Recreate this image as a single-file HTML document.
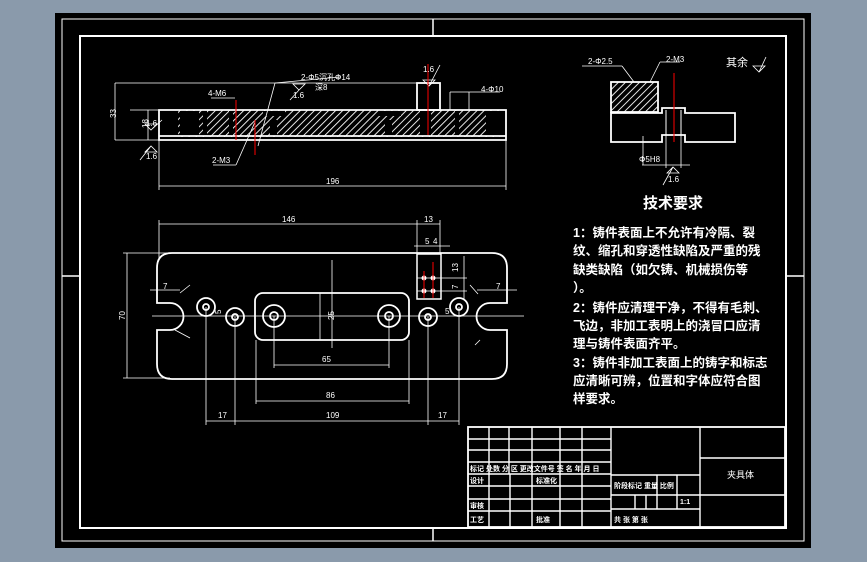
<!DOCTYPE html>
<html><head><meta charset="utf-8"><style>
html,body{margin:0;padding:0;width:867px;height:562px;overflow:hidden;background:#8a9aab}
svg{display:block}
.t{font-family:"Liberation Sans","Noto Sans CJK SC",sans-serif;fill:#fff}
</style></head><body>
<svg width="867" height="562" viewBox="0 0 867 562" xmlns="http://www.w3.org/2000/svg">
<defs>
<pattern id="h" patternUnits="userSpaceOnUse" width="5" height="5" patternTransform="rotate(45)">
<line x1="0" y1="0" x2="0" y2="5" stroke="#fff" stroke-width="1.8"/></pattern>
</defs>
<rect x="55" y="13" width="756" height="535" fill="#000"/>
<rect x="62" y="19" width="742" height="522" fill="none" stroke="#fff" stroke-width="1"/>
<rect x="80" y="36" width="706" height="492" fill="none" stroke="#fff" stroke-width="2"/>
<g stroke="#fff" stroke-width="1.5">
<line x1="433" y1="19" x2="433" y2="36"/><line x1="433" y1="528" x2="433" y2="541"/>
<line x1="62" y1="276" x2="80" y2="276"/><line x1="786" y1="276" x2="804" y2="276"/>
</g>

<!-- top view -->
<g fill="none" stroke="#fff">
<rect x="178" y="110" width="322" height="27" fill="url(#h)" stroke="none"/>
<g fill="#000" stroke="none">
<rect x="180" y="111" width="19" height="25"/><rect x="486" y="111" width="18" height="25"/>
<rect x="203" y="111" width="4" height="25"/><rect x="229" y="111" width="4" height="25"/>
<rect x="270" y="120" width="7" height="16"/><rect x="385" y="120" width="7" height="16"/>
<rect x="420" y="111" width="11" height="25"/><rect x="455" y="111" width="4" height="25"/>
<rect x="263" y="111" width="22" height="5"/><rect x="379" y="111" width="22" height="5"/>
</g>
<path d="M159 110 H506 V140 H159 Z M159 136 H506" stroke-width="1.8"/>
<rect x="417" y="83" width="23" height="27" stroke-width="1.8"/>
<g stroke-width="0.8">
<line x1="115" y1="83" x2="417" y2="83"/><line x1="115" y1="140" x2="159" y2="140"/>
<line x1="115" y1="83" x2="115" y2="140"/>
<line x1="148" y1="110" x2="148" y2="140"/><line x1="130" y1="110" x2="159" y2="110"/>
<line x1="159" y1="140" x2="159" y2="190"/><line x1="506" y1="140" x2="506" y2="190"/>
<line x1="159" y1="186" x2="506" y2="186"/>
<line x1="450" y1="92" x2="500" y2="92"/><line x1="450" y1="92" x2="450" y2="110"/><line x1="469" y1="92" x2="469" y2="110"/>
<line x1="275" y1="83" x2="340" y2="77"/><line x1="275" y1="83" x2="258" y2="146"/>
<line x1="211" y1="98" x2="235" y2="98"/>
<line x1="213" y1="165" x2="236" y2="165"/><line x1="236" y1="165" x2="255" y2="122"/>
<path d="M145 124 L151 130 L157 124 Z M151 130 L162 120"/>
<path d="M145 152 L151 146 L157 152 Z M151 146 L140 160"/>
<path d="M293 84 L299 90 L305 84 Z M299 90 L290 100"/>
<path d="M423 80 L429 86 L435 80 Z M429 86 L440 65"/>
</g>
<g stroke="#f00" stroke-width="1"><line x1="428" y1="64" x2="428" y2="135"/><line x1="236" y1="100" x2="236" y2="140"/><line x1="255" y1="120" x2="255" y2="155"/></g>
</g>
<g class="t" font-size="8">
<text x="301" y="80">2-Φ5沉孔Φ14</text><text x="315" y="90">深8</text>
<text x="208" y="96">4-M6</text><text x="481" y="92">4-Φ10</text>
<text x="212" y="163">2-M3</text><text x="326" y="184">196</text>
<text x="146" y="126">1.6</text><text x="146" y="159">1.6</text>
<text x="293" y="98">1.6</text><text x="423" y="72">1.6</text>
<text x="108" y="118" transform="rotate(-90 112 114)">33</text>
<text x="142" y="128" transform="rotate(-90 145 125)">18</text>
</g>

<!-- front view -->
<g fill="none" stroke="#fff" stroke-width="1.8">
<path d="M172 253 H492 Q507 253 507 268 V303 H490 A13 13 0 0 0 490 330 H507 V364 Q507 379 492 379 H172 Q157 379 157 364 V330 H170 A13 13 0 0 0 170 303 H157 V268 Q157 253 172 253 Z"/>
<rect x="255" y="293" width="154" height="47" rx="8"/>
<rect x="417" y="254" width="24" height="45" stroke-width="1.5"/>
<circle cx="274" cy="316" r="11"/><circle cx="274" cy="316" r="4"/>
<circle cx="389" cy="316" r="11"/><circle cx="389" cy="316" r="4"/>
<circle cx="206" cy="307" r="9"/><circle cx="206" cy="307" r="3"/>
<circle cx="235" cy="317" r="9"/><circle cx="235" cy="317" r="3"/>
<circle cx="428" cy="317" r="9"/><circle cx="428" cy="317" r="3"/>
<circle cx="459" cy="307" r="9"/><circle cx="459" cy="307" r="3"/>
</g>
<g fill="#fff"><circle cx="424" cy="278" r="2.5"/><circle cx="433" cy="278" r="2.5"/><circle cx="424" cy="291" r="2.5"/><circle cx="433" cy="291" r="2.5"/></g>
<g stroke="#f00"><line x1="424" y1="271" x2="424" y2="298"/><line x1="433" y1="262" x2="433" y2="298"/></g>
<g stroke="#fff" stroke-width="0.8" fill="none">
<line x1="159" y1="224" x2="440" y2="224"/><line x1="159" y1="220" x2="159" y2="260"/><line x1="417" y1="220" x2="417" y2="254"/><line x1="440" y1="220" x2="440" y2="254"/>
<line x1="414" y1="246" x2="450" y2="246"/>
<line x1="127" y1="253" x2="127" y2="378"/><line x1="123" y1="253" x2="170" y2="253"/><line x1="123" y1="378" x2="170" y2="378"/>
<line x1="152" y1="316" x2="524" y2="316"/><line x1="332" y1="260" x2="332" y2="348"/>
<line x1="274" y1="316" x2="274" y2="368"/><line x1="389" y1="316" x2="389" y2="368"/><line x1="274" y1="365" x2="389" y2="365"/>
<line x1="256" y1="340" x2="256" y2="404"/><line x1="409" y1="340" x2="409" y2="404"/><line x1="256" y1="401" x2="409" y2="401"/>
<line x1="206" y1="307" x2="206" y2="425"/><line x1="235" y1="317" x2="235" y2="425"/><line x1="428" y1="317" x2="428" y2="425"/><line x1="459" y1="307" x2="459" y2="425"/>
<line x1="206" y1="421" x2="459" y2="421"/>
<line x1="320" y1="293" x2="320" y2="340"/>
<line x1="417" y1="278" x2="467" y2="278"/><line x1="417" y1="291" x2="467" y2="291"/><line x1="464" y1="256" x2="464" y2="300"/>
<line x1="150" y1="290" x2="180" y2="290"/><line x1="477" y1="290" x2="517" y2="290"/>
<line x1="180" y1="293" x2="190" y2="285"/><line x1="175" y1="330" x2="190" y2="338"/>
<line x1="478" y1="294" x2="470" y2="285"/><line x1="480" y1="340" x2="475" y2="345"/>
</g>
<g class="t" font-size="8">
<text x="282" y="222">146</text><text x="424" y="222">13</text><text x="425" y="244">5</text><text x="433" y="244">4</text>
<text x="322" y="362">65</text><text x="326" y="398">86</text>
<text x="218" y="418">17</text><text x="326" y="418">109</text><text x="438" y="418">17</text>
<text x="163" y="289">7</text><text x="496" y="289">7</text>
<text x="119" y="320" transform="rotate(-90 122 317)">70</text>
<text x="328" y="320" transform="rotate(-90 331 317)">25</text>
<text x="215" y="314" transform="rotate(-90 218 311)">5</text><text x="445" y="314">5</text>
<text x="452" y="272" transform="rotate(-90 455 269)">13</text><text x="452" y="289" transform="rotate(-90 455 286)">7</text>
</g>

<!-- right detail -->
<g fill="none" stroke="#fff">
<rect x="611" y="82" width="47" height="30" fill="url(#h)" stroke-width="1.8"/>
<path d="M611 112 V142 H662 V135 H685 V142 H735 V113 H685 V108 H662 V113 H611" stroke-width="1.8"/>
<line x1="666" y1="110" x2="666" y2="135"/><line x1="681" y1="110" x2="681" y2="135"/>
<g stroke-width="0.8">
<line x1="582" y1="66" x2="622" y2="66"/><line x1="622" y1="66" x2="634" y2="82"/>
<line x1="660" y1="62" x2="680" y2="62"/><line x1="660" y1="62" x2="650" y2="82"/>
<line x1="643" y1="136" x2="643" y2="165"/>
<line x1="642" y1="165" x2="690" y2="165"/><line x1="666" y1="135" x2="666" y2="168"/><line x1="681" y1="135" x2="681" y2="168"/>
<path d="M667 173 L673 167 L679 173 Z M673 167 L663 185"/>
<path d="M753 66 L759 72 L765 66 Z M759 72 L766 57"/>
</g>
<line x1="674" y1="73" x2="674" y2="142" stroke="#f00"/>
</g>
<g class="t" font-size="8">
<text x="588" y="64">2-Φ2.5</text><text x="666" y="62">2-M3</text>
<text x="639" y="162">Φ5H8</text><text x="668" y="182">1.6</text>
<text x="726" y="66" font-size="11">其余</text>
</g>

<!-- tech requirements -->
<g class="t" font-weight="bold">
<text x="643" y="208" font-size="15">技术要求</text>
<g font-size="12.5">
<text x="573" y="237">1：铸件表面上不允许有冷隔、裂</text>
<text x="573" y="255">纹、缩孔和穿透性缺陷及严重的残</text>
<text x="573" y="274">缺类缺陷（如欠铸、机械损伤等</text>
<text x="573" y="292">）。</text>
<text x="573" y="312">2：铸件应清理干净，不得有毛刺、</text>
<text x="573" y="330">飞边，非加工表明上的浇冒口应清</text>
<text x="573" y="348">理与铸件表面齐平。</text>
<text x="573" y="367">3：铸件非加工表面上的铸字和标志</text>
<text x="573" y="385">应清晰可辨，位置和字体应符合图</text>
<text x="573" y="403">样要求。</text>
</g>
</g>

<!-- title block -->
<g stroke="#fff" fill="none" stroke-width="1.4">
<rect x="468" y="427" width="317" height="100" stroke-width="1.8"/>
<line x1="700" y1="427" x2="700" y2="527"/><line x1="700" y1="458" x2="785" y2="458"/><line x1="700" y1="495" x2="785" y2="495"/>
<line x1="611" y1="427" x2="611" y2="527"/>
<line x1="611" y1="475" x2="700" y2="475"/><line x1="611" y1="495" x2="700" y2="495"/><line x1="611" y1="509" x2="700" y2="509"/>
<line x1="657" y1="475" x2="657" y2="509"/><line x1="677" y1="475" x2="677" y2="509"/>
<line x1="635" y1="495" x2="635" y2="509"/><line x1="646" y1="495" x2="646" y2="509"/>
<line x1="468" y1="439" x2="611" y2="439"/><line x1="468" y1="450" x2="611" y2="450"/><line x1="468" y1="462" x2="611" y2="462"/><line x1="468" y1="474" x2="611" y2="474"/><line x1="468" y1="486" x2="611" y2="486"/><line x1="468" y1="499" x2="611" y2="499"/><line x1="468" y1="511" x2="611" y2="511"/>
<line x1="489" y1="427" x2="489" y2="527"/><line x1="509" y1="427" x2="509" y2="474"/><line x1="532" y1="427" x2="532" y2="527"/><line x1="560" y1="427" x2="560" y2="527"/><line x1="582" y1="427" x2="582" y2="527"/>
<line x1="510" y1="474" x2="510" y2="527"/>
</g>
<g class="t" font-size="7" font-weight="bold">
<text x="470" y="471">标记 处数 分 区 更改文件号 签 名 年 月 日</text>
<text x="470" y="483">设计</text><text x="536" y="483">标准化</text>
<text x="470" y="508">审核</text><text x="470" y="522">工艺</text><text x="536" y="522">批准</text>
<text x="614" y="488">阶段标记 重量 比例</text><text x="680" y="504">1:1</text>
<text x="614" y="522">共  张  第  张</text>
<text x="727" y="478" font-size="9" font-weight="normal">夹具体</text>
</g>
</svg>
</body></html>
